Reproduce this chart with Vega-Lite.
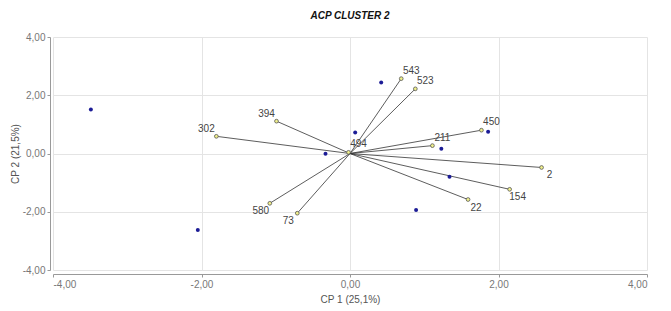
{
  "$schema": "https://vega.github.io/schema/vega-lite/v6.json",
  "autosize": {"type": "none"},
  "width": 594,
  "height": 233,
  "padding": {"left": 53, "top": 37, "right": 24, "bottom": 41},
  "background": "white",
  "title": {
    "text": "ACP CLUSTER 2",
    "font": "Liberation Sans",
    "fontSize": 10,
    "fontWeight": "bold",
    "fontStyle": "italic",
    "color": "#111",
    "anchor": "middle",
    "offset": 11
  },
  "config": {
    "view": {"stroke": null},
    "font": "Liberation Sans",
    "axis": {
      "labelFont": "Liberation Sans",
      "labelFontSize": 10,
      "labelColor": "#777",
      "titleFont": "Liberation Sans",
      "titleFontSize": 10,
      "titleFontWeight": "normal",
      "titleColor": "#555",
      "domainColor": "#999",
      "tickColor": "#999",
      "tickSize": 3,
      "gridColor": "#e4e4e4",
      "gridWidth": 1
    }
  },
  "datasets": {
    "vectors": [
      {"name": "543", "x": 0.69, "y": 2.57, "q": "ur"},
      {"name": "523", "x": 0.88, "y": 2.22, "q": "ur"},
      {"name": "450", "x": 1.77, "y": 0.8, "q": "ur"},
      {"name": "211", "x": 1.11, "y": 0.27, "q": "ur"},
      {"name": "494", "x": -0.02, "y": 0.04, "q": "ur"},
      {"name": "2", "x": 2.58, "y": -0.48, "q": "lr"},
      {"name": "154", "x": 2.15, "y": -1.23, "q": "lr"},
      {"name": "22", "x": 1.59, "y": -1.58, "q": "lr"},
      {"name": "394", "x": -0.99, "y": 1.11, "q": "ul"},
      {"name": "302", "x": -1.8, "y": 0.59, "q": "ul"},
      {"name": "580", "x": -1.08, "y": -1.71, "q": "ll"},
      {"name": "73", "x": -0.71, "y": -2.05, "q": "ll"}
    ],
    "obs": [
      {"x": -3.49, "y": 1.51},
      {"x": -2.05, "y": -2.63},
      {"x": 0.42, "y": 2.44},
      {"x": 0.07, "y": 0.72},
      {"x": -0.33, "y": -0.01},
      {"x": 1.23, "y": 0.16},
      {"x": 1.34, "y": -0.8},
      {"x": 0.89, "y": -1.94},
      {"x": 1.86, "y": 0.75}
    ]
  },
  "encoding": {
    "x": {
      "field": "x",
      "type": "quantitative",
      "scale": {"domain": [-4, 4], "nice": false, "zero": false},
      "axis": {
        "title": "CP 1 (25,1%)",
        "values": [-4, -2, 0, 2, 4],
        "offset": 4,
        "labelExpr": "replace(replace(format(datum.value, '.2f'), '.', ','), '\u2212', '-')",
        "titlePadding": 5,
        "labelPadding": 2
      }
    },
    "y": {
      "field": "y",
      "type": "quantitative",
      "scale": {"domain": [-4, 4], "nice": false, "zero": false},
      "axis": {
        "title": "CP 2 (21,5%)",
        "values": [-4, -2, 0, 2, 4],
        "offset": 3,
        "labelExpr": "replace(replace(format(datum.value, '.2f'), '.', ','), '\u2212', '-')",
        "titlePadding": 2,
        "labelPadding": 2
      }
    }
  },
  "layer": [
    {
      "data": {"name": "vectors"},
      "mark": {"type": "rule", "color": "#333", "strokeWidth": 0.8},
      "encoding": {"x2": {"datum": 0}, "y2": {"datum": 0}}
    },
    {
      "data": {"name": "obs"},
      "mark": {"type": "point", "filled": true, "shape": "circle", "size": 16, "color": "#1c1c96", "opacity": 1}
    },
    {
      "data": {"name": "vectors"},
      "mark": {"type": "point", "filled": true, "shape": "circle", "size": 14, "fill": "#f0f08c", "stroke": "#555", "strokeWidth": 0.8, "opacity": 1}
    },
    {
      "data": {"name": "vectors"},
      "transform": [{"filter": "datum.q == 'ur'"}],
      "mark": {"type": "text", "align": "center", "baseline": "middle", "dx": 10, "dy": -8, "fontSize": 10, "color": "#444"},
      "encoding": {"text": {"field": "name"}}
    },
    {
      "data": {"name": "vectors"},
      "transform": [{"filter": "datum.q == 'lr'"}],
      "mark": {"type": "text", "align": "center", "baseline": "middle", "dx": 8, "dy": 8, "fontSize": 10, "color": "#444"},
      "encoding": {"text": {"field": "name"}}
    },
    {
      "data": {"name": "vectors"},
      "transform": [{"filter": "datum.q == 'ul'"}],
      "mark": {"type": "text", "align": "center", "baseline": "middle", "dx": -10, "dy": -7, "fontSize": 10, "color": "#444"},
      "encoding": {"text": {"field": "name"}}
    },
    {
      "data": {"name": "vectors"},
      "transform": [{"filter": "datum.q == 'll'"}],
      "mark": {"type": "text", "align": "center", "baseline": "middle", "dx": -9, "dy": 8, "fontSize": 10, "color": "#444"},
      "encoding": {"text": {"field": "name"}}
    }
  ]
}
